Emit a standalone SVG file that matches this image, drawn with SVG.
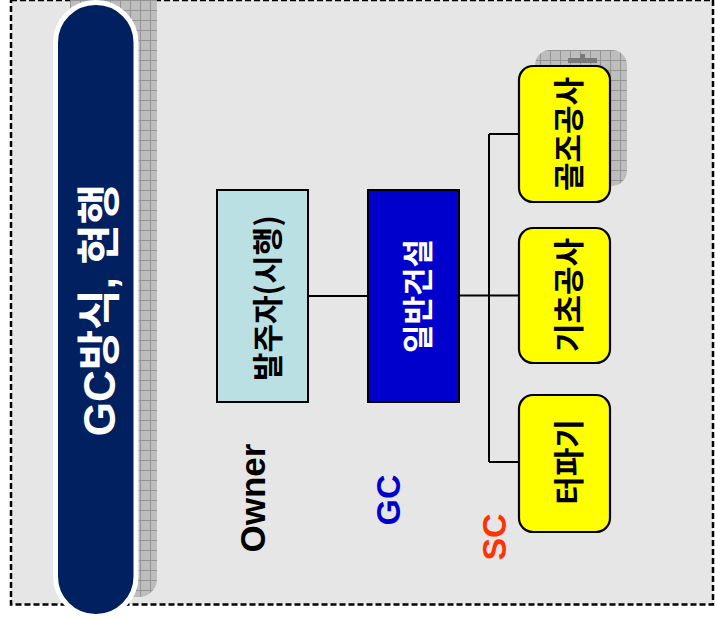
<svg xmlns="http://www.w3.org/2000/svg" width="715" height="619" viewBox="0 0 715 619">
<defs>
<pattern id="grid" width="10" height="10" patternUnits="userSpaceOnUse">
<rect width="10" height="10" fill="#bdbdbd"/>
<path d="M0 0.5H10M0.5 0V10" stroke="#949494" stroke-width="1" fill="none"/>
</pattern>
<style>
.kr{font-family:"Noto Sans CJK KR","Liberation Sans",sans-serif;font-weight:bold;font-size:31px;text-anchor:middle;dominant-baseline:central}
.lat{font-family:"Liberation Sans",Arial,sans-serif;font-weight:bold;text-anchor:middle}
.sub{fill:#ffff00;stroke:#000;stroke-width:2.2}
.conn{stroke:#000;stroke-width:2;fill:none}
</style>
</defs>
<rect width="715" height="619" fill="#fff"/>
<rect id="frame" x="11" y="0" width="702" height="604.5" fill="#e6e6e6" stroke="#000" stroke-width="2.5" stroke-dasharray="6 3"/>

<g id="title">
<rect x="70" y="-20" width="87" height="617" rx="18" fill="url(#grid)"/>
<rect x="55.5" y="2.5" width="80.5" height="614" rx="40" fill="#002060" stroke="#fff" stroke-width="5"/>
<text transform="translate(99,310) rotate(-90)" font-family="'Liberation Sans','Noto Sans CJK KR',sans-serif" font-weight="bold" font-size="44" fill="#fff" text-anchor="middle" dominant-baseline="central">GC방식, 현행</text>
</g>

<g id="connectors">
<path class="conn" d="M308 296H368M459 295.5H489M489 134V462M489 134H519M489 295.5H519M489 462H519"/>
</g>

<g id="owner">
<rect x="217" y="190" width="91" height="212" fill="#bbe0e3" stroke="#000" stroke-width="2"/>
<text class="kr" transform="translate(265,298) rotate(-90)" fill="#000">발주자(시행)</text>
</g>

<g id="gc">
<rect x="368" y="190" width="91" height="212" fill="#0000cc" stroke="#000" stroke-width="2"/>
<text class="kr" transform="translate(415,296) rotate(-90)" fill="#fff">일반건설</text>
</g>

<g id="sc1">
<rect x="535" y="50" width="92" height="136" rx="15" fill="url(#grid)"/>
<path d="M568 58H597V63H568ZM580 54H585V58H580Z" fill="#7a7a7a"/>
<rect class="sub" x="519" y="66" width="91" height="136" rx="14"/>
<text class="kr" transform="translate(566,134) rotate(-90)" fill="#000">골조공사</text>
</g>

<g id="sc2">
<rect class="sub" x="519" y="228" width="91" height="135" rx="14"/>
<text class="kr" transform="translate(566,295) rotate(-90)" fill="#000">기초공사</text>
</g>

<g id="sc3">
<rect class="sub" x="519" y="395" width="91" height="137" rx="14"/>
<text class="kr" transform="translate(566,462) rotate(-90)" fill="#000">터파기</text>
</g>

<g id="labels">
<text class="lat" transform="translate(265,498) rotate(-90)" font-size="35" fill="#000">Owner</text>
<text class="lat" transform="translate(400,500) rotate(-90)" font-size="34" fill="#0000cc">GC</text>
<text class="lat" transform="translate(506,537) rotate(-90)" font-size="34" fill="#ff3300">SC</text>
</g>
</svg>
